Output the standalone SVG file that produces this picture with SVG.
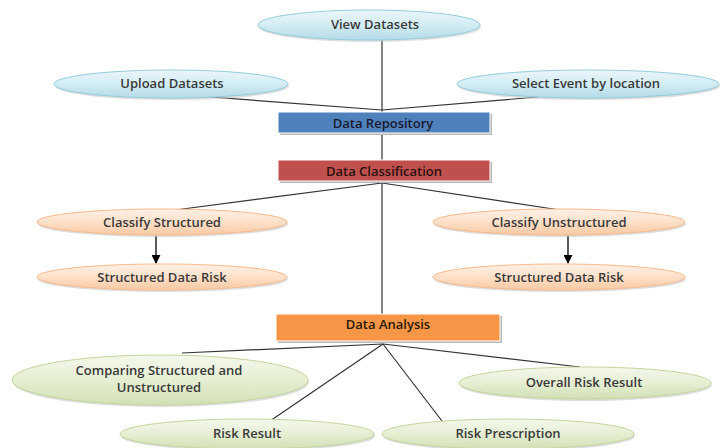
<svg xmlns="http://www.w3.org/2000/svg" width="724" height="448" viewBox="0 0 724 448">
<defs>
<linearGradient id="gBlue" x1="0" y1="0" x2="0" y2="1">
<stop offset="0" stop-color="#eaf6fa"/><stop offset="0.5" stop-color="#d3ecf4"/><stop offset="1" stop-color="#b4dbe8"/>
</linearGradient>
<linearGradient id="gOrange" x1="0" y1="0" x2="0" y2="1">
<stop offset="0" stop-color="#fef1e7"/><stop offset="0.5" stop-color="#fde0c9"/><stop offset="1" stop-color="#f9c9a2"/>
</linearGradient>
<linearGradient id="gGreen" x1="0" y1="0" x2="0" y2="1">
<stop offset="0" stop-color="#f4f8ec"/><stop offset="0.5" stop-color="#e6eed3"/><stop offset="1" stop-color="#d2e0b5"/>
</linearGradient>
<marker id="arr" viewBox="0 0 10 10" refX="9" refY="5" markerWidth="9" markerHeight="9" markerUnits="userSpaceOnUse" orient="auto">
<path d="M0,0 L10,5 L0,10 z" fill="#000"/>
</marker>
</defs>
<style>
.e-blue{fill:url(#gBlue);stroke:#93cddd;stroke-width:1}
.e-orange{fill:url(#gOrange);stroke:#f9b98a;stroke-width:1}
.e-green{fill:url(#gGreen);stroke:#c3d69b;stroke-width:1}
.shadow{fill:#c8c8c8;opacity:0.6}
.lbl{font-family:"Open Sans","Liberation Sans",sans-serif;font-weight:600;font-size:13px;fill:#3a3a3a;text-anchor:middle;dominant-baseline:central}
.conn{stroke:#333;stroke-width:1.2;fill:none}
.conn-arr{stroke:#000;stroke-width:1.3;fill:none}
</style>
<rect width="724" height="448" fill="#fff"/>
<g id="connectors">
<line class="conn" x1="382" y1="40" x2="382" y2="314"/>
<line class="conn" x1="197" y1="96" x2="382" y2="110"/>
<line class="conn" x1="538" y1="97" x2="382" y2="110"/>
<line class="conn" x1="382" y1="183" x2="175" y2="210"/>
<line class="conn" x1="382" y1="183" x2="560" y2="210"/>
<line class="conn-arr" x1="156" y1="235" x2="156" y2="263" marker-end="url(#arr)"/>
<line class="conn-arr" x1="568" y1="235" x2="568" y2="263" marker-end="url(#arr)"/>
<line class="conn" x1="383" y1="344" x2="182" y2="353"/>
<line class="conn" x1="383" y1="344" x2="270" y2="421"/>
<line class="conn" x1="383" y1="344" x2="442" y2="421"/>
<line class="conn" x1="383" y1="344" x2="580" y2="367"/>
</g>
<g id="view-datasets">
<ellipse class="shadow" cx="370" cy="27" rx="111" ry="15"/>
<ellipse class="e-blue" cx="369" cy="25" rx="111" ry="15"/>
<text class="lbl" x="375" y="24">View Datasets</text>
</g>
<g id="upload-datasets">
<ellipse class="shadow" cx="172" cy="86" rx="117" ry="14"/>
<ellipse class="e-blue" cx="171" cy="84" rx="117" ry="14"/>
<text class="lbl" x="172" y="83">Upload Datasets</text>
</g>
<g id="select-event">
<ellipse class="shadow" cx="589" cy="86" rx="131" ry="14"/>
<ellipse class="e-blue" cx="588" cy="84" rx="131" ry="14"/>
<text class="lbl" x="586" y="83">Select Event by location</text>
</g>
<g id="data-repository">
<rect x="280" y="114" width="212" height="21" fill="#b8b8b8"/>
<rect x="278" y="112" width="212" height="21" fill="#4f81bd" stroke="#fff" stroke-width="1"/>
<text class="lbl" x="383" y="122.5" style="fill:#1a1a2e">Data Repository</text>
</g>
<g id="data-classification">
<rect x="280" y="162" width="212" height="21" fill="#b8b8b8"/>
<rect x="278" y="160" width="212" height="21" fill="#c0504d" stroke="#fff" stroke-width="1"/>
<text class="lbl" x="384" y="170.5" style="fill:#2a1010">Data Classification</text>
</g>
<g id="classify-structured">
<ellipse class="shadow" cx="163" cy="224" rx="125" ry="13"/>
<ellipse class="e-orange" cx="162" cy="222" rx="125" ry="13"/>
<text class="lbl" x="162" y="222">Classify Structured</text>
</g>
<g id="structured-risk-left">
<ellipse class="shadow" cx="163" cy="279" rx="125" ry="13"/>
<ellipse class="e-orange" cx="162" cy="277" rx="125" ry="13"/>
<text class="lbl" x="162" y="277">Structured Data Risk</text>
</g>
<g id="classify-unstructured">
<ellipse class="shadow" cx="560" cy="224" rx="126" ry="13"/>
<ellipse class="e-orange" cx="559" cy="222" rx="126" ry="13"/>
<text class="lbl" x="559" y="222">Classify Unstructured</text>
</g>
<g id="structured-risk-right">
<ellipse class="shadow" cx="560" cy="279" rx="126" ry="13"/>
<ellipse class="e-orange" cx="559" cy="277" rx="126" ry="13"/>
<text class="lbl" x="559" y="277">Structured Data Risk</text>
</g>
<g id="data-analysis">
<rect x="278" y="316" width="224" height="27" fill="#b8b8b8"/>
<rect x="276" y="314" width="224" height="27" fill="#f79646" stroke="#fff" stroke-width="1"/>
<text class="lbl" x="388" y="324" style="fill:#2a1a0a">Data Analysis</text>
</g>
<g id="comparing">
<ellipse class="shadow" cx="161" cy="382" rx="148" ry="25"/>
<ellipse class="e-green" cx="160" cy="380" rx="148" ry="25"/>
<text class="lbl" x="159" y="370">Comparing Structured and</text>
<text class="lbl" x="159" y="387">Unstructured</text>
</g>
<g id="overall-risk">
<ellipse class="shadow" cx="586" cy="385" rx="126" ry="16"/>
<ellipse class="e-green" cx="585" cy="383" rx="126" ry="16"/>
<text class="lbl" x="584" y="382">Overall Risk Result</text>
</g>
<g id="risk-result">
<ellipse class="shadow" cx="248" cy="436" rx="127" ry="15"/>
<ellipse class="e-green" cx="247" cy="434" rx="127" ry="15"/>
<text class="lbl" x="247" y="433">Risk Result</text>
</g>
<g id="risk-prescription">
<ellipse class="shadow" cx="509" cy="436" rx="126" ry="15"/>
<ellipse class="e-green" cx="508" cy="434" rx="126" ry="15"/>
<text class="lbl" x="508" y="433">Risk Prescription</text>
</g>
</svg>
